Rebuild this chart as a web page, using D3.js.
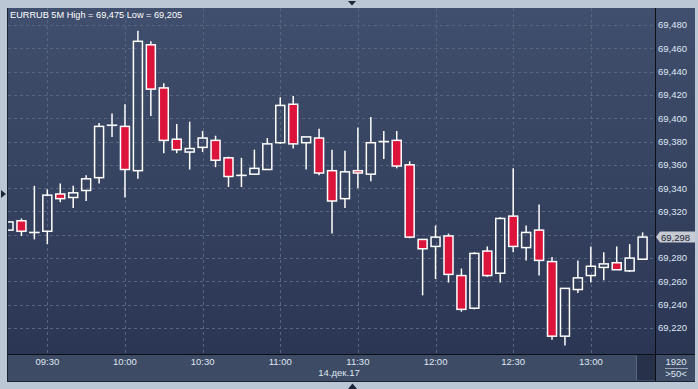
<!DOCTYPE html>
<html>
<head>
<meta charset="utf-8">
<script src="https://cdn.jsdelivr.net/npm/d3@7"></script>
<style>
  html, body { margin: 0; padding: 0; background: #bcc7d6; }
  svg { display: block; }
  text { font-family: 'Liberation Sans', Arial, sans-serif; }
</style>
</head>
<body>
<div id="chart"></div>
<script>
'use strict';

/* Candle data, EURRUB 5M, 14.12.2017 */

var times = ['09:15','09:20','09:25','09:30','09:35','09:40','09:45','09:50','09:55',
             '10:00','10:05','10:10','10:15','10:20','10:25','10:30','10:35','10:40','10:45','10:50','10:55',
             '11:00','11:05','11:10','11:15','11:20','11:25','11:30','11:35','11:40','11:45','11:50','11:55',
             '12:00','12:05','12:10','12:15','12:20','12:25','12:30','12:35','12:40','12:45','12:50','12:55',
             '13:00','13:05','13:10','13:15','13:20'];

var opens  = [69.304,69.312,69.302,69.303,69.335,69.332,69.338,69.349,69.394,
              69.393,69.355,69.463,69.426,69.382,69.371,69.375,69.381,69.366,69.351,69.352,69.356,
              69.379,69.412,69.379,69.383,69.355,69.331,69.355,69.352,69.380,69.381,69.360,69.296,
              69.290,69.299,69.265,69.237,69.286,69.267,69.316,69.289,69.304,69.277,69.213,69.253,
              69.265,69.272,69.276,69.269,69.279];

var highs  = [69.311,69.314,69.342,69.339,69.344,69.342,69.351,69.396,69.404,
              69.412,69.475,69.466,69.430,69.395,69.397,69.389,69.385,69.367,69.366,69.373,69.383,
              69.418,69.419,69.384,69.391,69.373,69.372,69.392,69.401,69.389,69.389,69.363,69.296,
              69.308,69.301,69.271,69.285,69.290,69.315,69.357,69.308,69.326,69.281,69.254,69.278,
              69.290,69.285,69.290,69.292,69.302];

var lows   = [69.304,69.299,69.296,69.292,69.328,69.323,69.329,69.344,69.384,
              69.332,69.348,69.402,69.370,69.370,69.356,69.371,69.358,69.341,69.341,69.352,69.356,
              69.378,69.374,69.356,69.351,69.301,69.323,69.340,69.346,69.365,69.357,69.297,69.248,
              69.262,69.259,69.234,69.236,69.264,69.259,69.285,69.278,69.265,69.210,69.205,69.250,
              69.259,69.261,69.270,69.268,69.279];

var closes = [69.311,69.303,69.302,69.334,69.331,69.336,69.348,69.393,69.394,
              69.356,69.466,69.425,69.381,69.373,69.374,69.383,69.364,69.350,69.351,69.357,69.378,
              69.411,69.378,69.384,69.353,69.329,69.354,69.353,69.379,69.380,69.359,69.298,69.288,
              69.298,69.266,69.236,69.284,69.265,69.314,69.290,69.302,69.278,69.213,69.254,69.263,
              69.273,69.275,69.270,69.280,69.298];

var priceTicks = [69.220,69.240,69.260,69.280,69.300,69.320,69.340,69.360,69.380,69.400,69.420,69.440,69.460,69.480];
var timeTicks = ['09:30','10:00','10:30','11:00','11:30','12:00','12:30','13:00'];

var title = 'EURRUB 5M High = 69,475 Low = 69,205';
var dateLabel = '14.дек.17';

var w = 698;
var h = 389;

var plot = { left: 8, top: 8, right: 655, bottom: 354 };
var axisRight = 695;
var axisBottom = 381;

var parseTime = function (s) {
  var p = s.split(':');
  return new Date(2017, 11, 14, +p[0], +p[1]);
};

var candles = times.map(function (t, i) {
  return { time: parseTime(t), o: opens[i], h: highs[i], l: lows[i], c: closes[i] };
});

var x = d3.scaleTime()
  .domain([parseTime('09:15'), parseTime('13:20')])
  .range([8.5, 642.6]);

var y = d3.scaleLinear()
  .domain([69.220, 69.480])
  .range([328, 25]);

var fmt = function (v) { return d3.format('.3f')(v).replace('.', ','); };

var last = candles[candles.length - 1];
var ly = y(last.c);

var svg = d3.select('#chart').append('svg')
  .attr('width', w)
  .attr('height', h);

var defs = svg.append('defs');

var grad = defs.append('linearGradient')
  .attr('id', 'bg')
  .attr('x1', 0).attr('y1', 0).attr('x2', 0).attr('y2', 1);
grad.append('stop').attr('offset', '0%').attr('stop-color', '#404f6d');
grad.append('stop').attr('offset', '100%').attr('stop-color', '#2b3654');

defs.append('clipPath')
  .attr('id', 'plotClip')
  .append('rect')
  .attr('x', plot.left)
  .attr('y', plot.top)
  .attr('width', plot.right - plot.left)
  .attr('height', plot.bottom - plot.top);

/* Outer background */

svg.append('rect')
  .attr('width', w)
  .attr('height', h)
  .style('fill', '#bcc7d6');

/* Plot + right axis panel */

svg.append('rect')
  .attr('x', plot.left)
  .attr('y', plot.top)
  .attr('width', axisRight - plot.left)
  .attr('height', plot.bottom - plot.top)
  .style('fill', 'url(#bg)');

/* Bottom axis band */

svg.append('rect')
  .attr('x', plot.left)
  .attr('y', plot.bottom)
  .attr('width', axisRight - plot.left)
  .attr('height', axisBottom - plot.bottom)
  .style('fill', '#3e4b65');

svg.append('rect')
  .attr('x', 637)
  .attr('y', plot.bottom + 1)
  .attr('width', 18)
  .attr('height', axisBottom - plot.bottom - 2)
  .style('fill', '#27324a');

svg.append('line')
  .attr('x1', 636.5).attr('y1', plot.bottom + 2)
  .attr('x2', 636.5).attr('y2', axisBottom - 1)
  .style('stroke', '#5b6780')
  .style('stroke-width', 1);

/* Grid */

var grid = svg.append('g').attr('clip-path', 'url(#plotClip)');

grid.selectAll('line.h')
  .data(priceTicks)
  .enter()
  .append('line')
  .attr('class', 'h')
  .attr('x1', plot.left)
  .attr('x2', plot.right)
  .attr('y1', function (d) { return Math.round(y(d)) + 0.5; })
  .attr('y2', function (d) { return Math.round(y(d)) + 0.5; })
  .style('stroke', '#56667f')
  .style('stroke-width', 1)
  .style('stroke-dasharray', '3,3');

grid.selectAll('line.v')
  .data(timeTicks)
  .enter()
  .append('line')
  .attr('class', 'v')
  .attr('x1', function (d) { return Math.round(x(parseTime(d))) + 0.5; })
  .attr('x2', function (d) { return Math.round(x(parseTime(d))) + 0.5; })
  .attr('y1', plot.top)
  .attr('y2', plot.bottom)
  .style('stroke', '#56667f')
  .style('stroke-width', 1)
  .style('stroke-dasharray', '3,3');

/* Candles */

var bodyW = 9;
var g = svg.append('g').attr('clip-path', 'url(#plotClip)');

var candle = g.selectAll('g.candle')
  .data(candles)
  .enter()
  .append('g')
  .attr('class', 'candle');

// upper wick
candle.append('line')
  .attr('x1', function (d) { return x(d.time); })
  .attr('x2', function (d) { return x(d.time); })
  .attr('y1', function (d) { return y(d.h); })
  .attr('y2', function (d) { return y(Math.max(d.o, d.c)); })
  .style('stroke', 'white')
  .style('stroke-width', 1.5);

// lower wick
candle.append('line')
  .attr('x1', function (d) { return x(d.time); })
  .attr('x2', function (d) { return x(d.time); })
  .attr('y1', function (d) { return y(Math.min(d.o, d.c)); })
  .attr('y2', function (d) { return y(d.l); })
  .style('stroke', 'white')
  .style('stroke-width', 1.5);

candle.append('rect')
  .attr('x', function (d) { return x(d.time) - bodyW / 2; })
  .attr('y', function (d) { return y(Math.max(d.o, d.c)); })
  .attr('width', bodyW)
  .attr('height', function (d) { return Math.max(0.1, Math.abs(y(d.o) - y(d.c))); })
  .style('fill', function (d) { return d.c < d.o ? '#dc143c' : 'none'; })
  .style('stroke', 'white')
  .style('stroke-width', 1.5);

/* Frame lines */

svg.append('line')
  .attr('x1', plot.right + 0.5).attr('y1', plot.top)
  .attr('x2', plot.right + 0.5).attr('y2', axisBottom)
  .style('stroke', '#0c0f16')
  .style('stroke-width', 1);

svg.append('line')
  .attr('x1', plot.left).attr('y1', plot.bottom + 0.5)
  .attr('x2', axisRight).attr('y2', plot.bottom + 0.5)
  .style('stroke', '#0c0f16')
  .style('stroke-width', 1);

svg.append('line')
  .attr('x1', plot.left - 0.5).attr('y1', plot.top)
  .attr('x2', plot.left - 0.5).attr('y2', axisBottom + 0.5)
  .style('stroke', '#1a2232')
  .style('stroke-width', 1);

svg.append('line')
  .attr('x1', plot.left - 1).attr('y1', axisBottom + 0.5)
  .attr('x2', axisRight).attr('y2', axisBottom + 0.5)
  .style('stroke', '#1a2232')
  .style('stroke-width', 1);

/* Right axis labels (the one under the last price tag is hidden) */

svg.selectAll('text.price')
  .data(priceTicks.filter(function (d) { return Math.abs(y(d) - ly) > 9; }))
  .enter()
  .append('text')
  .attr('class', 'price')
  .attr('x', 658)
  .attr('y', function (d) { return y(d); })
  .attr('dy', '0.36em')
  .attr('font-size', '9.5px')
  .style('fill', '#dfe7f3')
  .text(fmt);

/* Last price marker */

svg.append('path')
  .attr('d', 'M656,' + ly + 'L660,' + (ly - 5.5) + 'H695V' + (ly + 5.5) + 'H660Z')
  .style('fill', '#c5cad3');

svg.append('text')
  .attr('x', 661)
  .attr('y', ly)
  .attr('dy', '0.36em')
  .attr('font-size', '9.5px')
  .style('fill', '#1b2334')
  .text(fmt(last.c));

/* Time labels */

svg.selectAll('text.time')
  .data(timeTicks)
  .enter()
  .append('text')
  .attr('class', 'time')
  .attr('x', function (d) { return x(parseTime(d)); })
  .attr('y', 365)
  .attr('text-anchor', 'middle')
  .attr('font-size', '9.5px')
  .style('fill', '#dfe7f3')
  .text(function (d) { return d; });

svg.append('text')
  .attr('x', 339)
  .attr('y', 376)
  .attr('text-anchor', 'middle')
  .attr('font-size', '9.5px')
  .style('fill', '#dfe7f3')
  .text(dateLabel);

/* Bottom right cell */

svg.append('text')
  .attr('x', 676)
  .attr('y', 365)
  .attr('text-anchor', 'middle')
  .attr('font-size', '9.5px')
  .style('fill', '#dfe7f3')
  .text('1920');

svg.append('line')
  .attr('x1', 665).attr('y1', 368.5)
  .attr('x2', 688).attr('y2', 368.5)
  .style('stroke', '#9aa6b8')
  .style('stroke-width', 1);

svg.append('text')
  .attr('x', 676)
  .attr('y', 377)
  .attr('text-anchor', 'middle')
  .attr('font-size', '9.5px')
  .style('fill', '#dfe7f3')
  .text('>50<');

/* Title */

svg.append('text')
  .attr('x', 10)
  .attr('y', 18)
  .attr('font-size', '9.2px')
  .style('fill', '#ffffff')
  .text(title);

/* Markers */

svg.append('path')
  .attr('d', 'M348,1H356L352,5.5Z')
  .style('fill', '#1d2638');

svg.append('path')
  .attr('d', 'M1,190L6,194L1,198Z')
  .style('fill', '#1d2638');

svg.append('path')
  .attr('d', 'M348,389L352.5,383.5L357,389Z')
  .style('fill', '#1d2638');

</script>
</body>
</html>
